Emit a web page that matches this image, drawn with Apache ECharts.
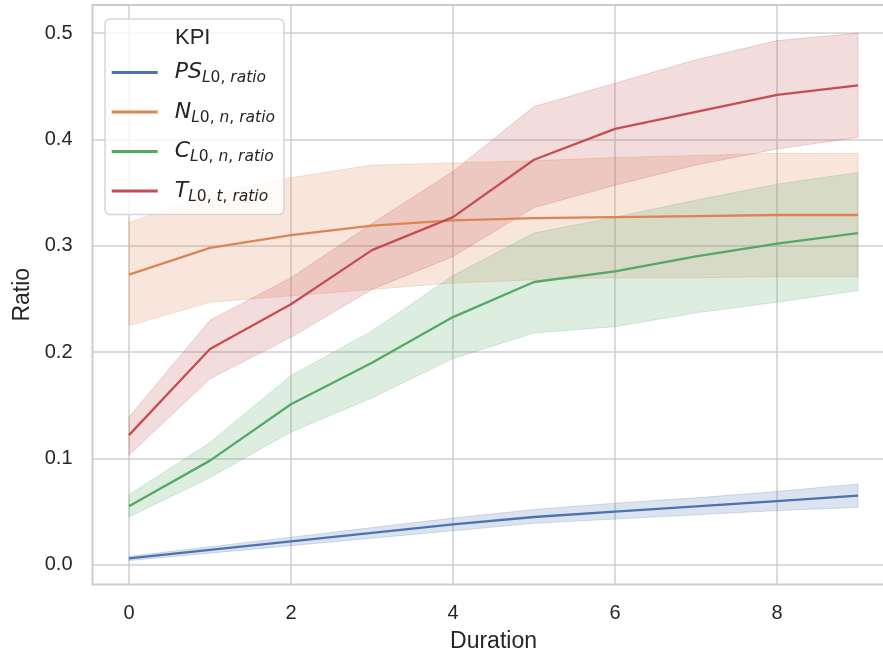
<!DOCTYPE html>
<html>
<head>
<meta charset="utf-8">
<script src="https://cdn.jsdelivr.net/npm/echarts@6/dist/echarts.min.js"></script>
<style>
html,body{margin:0;padding:0;background:#fff;}
#chart{width:883px;height:657px;}
</style>
</head>
<body>
<div id="chart"></div>
<script>
// ---- data ----
const durations = [0, 1, 2, 3, 4, 5, 6, 7, 8, 9];
const seriesNames = ['PS', 'N', 'C', 'T'];
const psMean = [0.006, 0.014, 0.022, 0.030, 0.038, 0.045, 0.050, 0.055, 0.060, 0.065];
const psLow  = [0.004, 0.011, 0.018, 0.025, 0.032, 0.039, 0.043, 0.047, 0.051, 0.054];
const psHigh = [0.008, 0.017, 0.026, 0.035, 0.044, 0.052, 0.058, 0.063, 0.069, 0.076];
const nMean = [0.273, 0.298, 0.310, 0.319, 0.324, 0.326, 0.327, 0.328, 0.329, 0.329];
const nLow  = [0.225, 0.247, 0.253, 0.259, 0.265, 0.268, 0.270, 0.270, 0.271, 0.271];
const nHigh = [0.322, 0.348, 0.364, 0.376, 0.378, 0.380, 0.383, 0.385, 0.387, 0.387];
const cMean = [0.055, 0.098, 0.151, 0.190, 0.233, 0.266, 0.276, 0.290, 0.302, 0.312];
const cLow  = [0.045, 0.082, 0.125, 0.157, 0.194, 0.218, 0.224, 0.237, 0.247, 0.258];
const cHigh = [0.066, 0.115, 0.178, 0.220, 0.272, 0.312, 0.327, 0.343, 0.358, 0.369];
const tMean = [0.122, 0.203, 0.245, 0.296, 0.327, 0.381, 0.410, 0.426, 0.442, 0.451];
const tLow  = [0.103, 0.175, 0.214, 0.259, 0.290, 0.336, 0.357, 0.376, 0.391, 0.402];
const tHigh = [0.139, 0.230, 0.270, 0.321, 0.370, 0.431, 0.453, 0.475, 0.493, 0.500];
const xTicks = [0, 2, 4, 6, 8];
const yTicks = [0.0, 0.1, 0.2, 0.3, 0.4, 0.5];
const legendTitle = 'KPI';
const legendLabels = {
  PS: '{m|PS}{s|L}{u|0, }{s|ratio}',
  N:  '{m|N}{s|L}{u|0, }{s|n}{u|, }{s|ratio}',
  C:  '{m|C}{s|L}{u|0, }{s|n}{u|, }{s|ratio}',
  T:  '{m|T}{s|L}{u|0, }{s|t}{u|, }{s|ratio}'
};

// ---- styling ----
const colors = ['#4C72B0', '#DD8452', '#55A868', '#C44E52'];
const bandColors = ['rgba(76,114,176,0.2)', 'rgba(221,132,82,0.2)', 'rgba(85,168,104,0.2)', 'rgba(196,78,82,0.2)'];
const bandEdge = ['rgba(76,114,176,0.22)', 'rgba(221,132,82,0.22)', 'rgba(85,168,104,0.22)', 'rgba(196,78,82,0.22)'];
const textColor = '#262626';
const gridColor = '#cfcfcf';
const sansFont = '"Liberation Sans", Arial, sans-serif';
const mathFont = '"DejaVu Sans", sans-serif';

const means = [psMean, nMean, cMean, tMean];
const lows = [psLow, nLow, cLow, tLow];
const highs = [psHigh, nHigh, cHigh, tHigh];

function bandRenderer(i) {
  return function (params, api) {
    if (params.dataIndex !== 0) return null;
    const upper = durations.map((d, k) => api.coord([d, highs[i][k]]));
    const lower = durations.map((d, k) => api.coord([d, lows[i][k]]));
    const poly = upper.concat(lower.slice().reverse());
    return {
      type: 'group',
      children: [
        { type: 'polygon', shape: { points: poly }, style: { fill: bandColors[i], stroke: bandEdge[i], lineWidth: 1 } }
      ]
    };
  };
}

const series = [];
seriesNames.forEach((name, i) => {
  series.push({
    name: name + '_band', type: 'custom', silent: true, z: 1,
    renderItem: bandRenderer(i),
    data: durations.map((d, k) => [d, lows[i][k], highs[i][k]]),
    encode: { x: 0, y: [1, 2] }
  });
});
seriesNames.forEach((name, i) => {
  series.push({
    name: name, type: 'line', symbol: 'none', z: 3,
    data: durations.map((d, k) => [d, means[i][k]]),
    itemStyle: { color: colors[i] },
    lineStyle: { width: 2.3, color: colors[i] }
  });
});

const chart = echarts.init(document.getElementById('chart'), null, { renderer: 'canvas' });
chart.setOption({
  animation: false,
  backgroundColor: '#ffffff',
  grid: {
    left: 92.5, top: 5, width: 802, height: 579.5,
    containLabel: false, outerBoundsMode: 'none',
    show: true, borderColor: '#cccccc', borderWidth: 2, backgroundColor: 'transparent'
  },
  xAxis: {
    type: 'value', min: -0.45, max: 9.45,
    name: 'Duration', nameLocation: 'middle', nameGap: 46,
    nameTextStyle: { fontFamily: sansFont, fontSize: 23, color: textColor },
    axisLine: { show: false },
    axisTick: { show: false, customValues: xTicks },
    axisLabel: { customValues: xTicks, fontFamily: sansFont, fontSize: 20, color: textColor, margin: 19 },
    splitLine: { show: true, lineStyle: { color: gridColor, width: 1.5 } }
  },
  yAxis: {
    type: 'value', min: -0.0185, max: 0.5265,
    name: 'Ratio', nameLocation: 'middle', nameGap: 58, nameRotate: 90,
    nameTextStyle: { fontFamily: sansFont, fontSize: 23, color: textColor },
    axisLine: { show: false },
    axisTick: { show: false, customValues: yTicks },
    axisLabel: { customValues: yTicks, fontFamily: sansFont, fontSize: 20, color: textColor, margin: 20,
      formatter: v => v.toFixed(1) },
    splitLine: { show: true, lineStyle: { color: gridColor, width: 1.5 } }
  },
  legend: {
    data: seriesNames,
    orient: 'vertical',
    left: 105, top: 19,
    padding: [42.4, 9, 9.7, 6.7],
    itemGap: 14.5,
    itemWidth: 46, itemHeight: 3,
    icon: 'rect',
    backgroundColor: 'rgba(255,255,255,0.8)',
    borderColor: '#d6d6d6', borderWidth: 1.5, borderRadius: 5,
    formatter: name => legendLabels[name],
    textStyle: {
      color: textColor,
      padding: [0, 0, 0, 12],
      rich: {
        m: { fontFamily: mathFont, fontStyle: 'italic', fontSize: 22, lineHeight: 28, color: textColor },
        s: { fontFamily: mathFont, fontStyle: 'italic', fontSize: 15.5, lineHeight: 15, verticalAlign: 'bottom', color: textColor },
        u: { fontFamily: mathFont, fontSize: 15.5, lineHeight: 15, verticalAlign: 'bottom', color: textColor }
      }
    }
  },
  graphic: [{
    type: 'text', left: 175, top: 27, z: 10,
    style: { text: legendTitle, fontFamily: sansFont, fontSize: 22, fill: textColor }
  }],
  series: series
});
</script>
</body>
</html>
